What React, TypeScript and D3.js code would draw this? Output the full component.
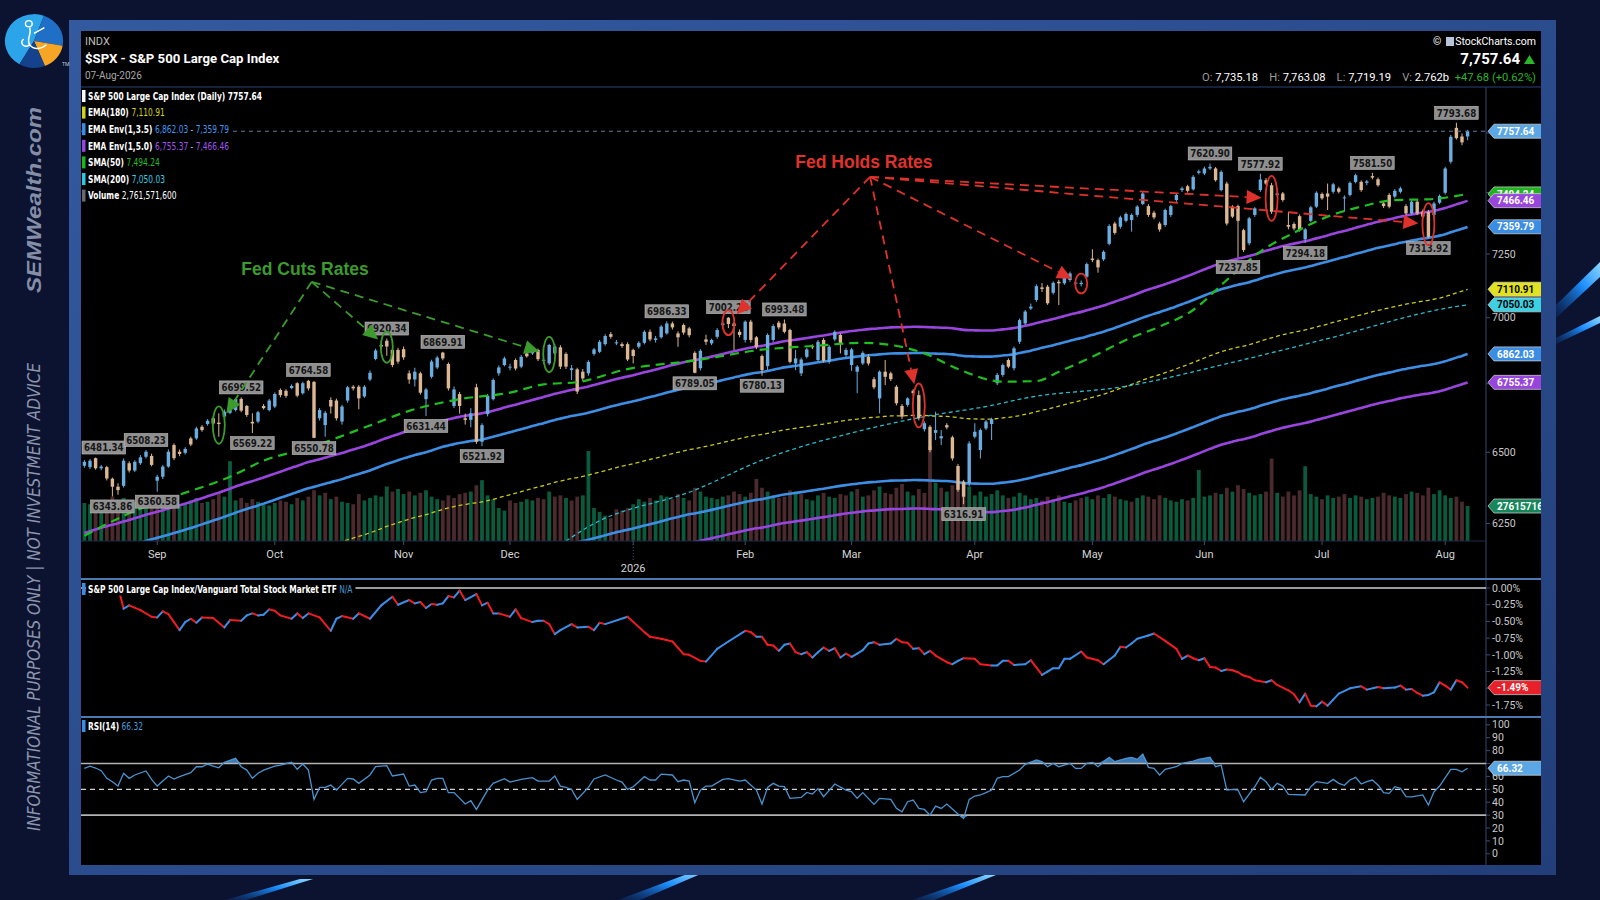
import { useEffect, useRef } from 'react'
import * as d3 from 'd3'

// $SPX daily bars 13-Aug-2025 .. 07-Aug-2026 : [open, high, low, close]
const candles: [number, number, number, number][] = [
  // 0-9
  [6452, 6472, 6445, 6466], [6447, 6476, 6440, 6470], [6479, 6481.34, 6438, 6443], [6443, 6455, 6436, 6449], [6447, 6452, 6400, 6407],
  [6406, 6410, 6343.86, 6378], [6378, 6390, 6350, 6366], [6381, 6478, 6375, 6470], [6461, 6468, 6428, 6435], [6435, 6472, 6430, 6466],
  // 10-19
  [6461, 6490, 6455, 6482], [6484, 6508.23, 6478, 6502], [6487, 6495, 6450, 6455], [6399, 6420, 6360.58, 6413], [6413, 6455, 6405, 6449],
  [6449, 6510, 6445, 6502], [6526, 6532, 6472, 6479], [6502, 6510, 6486, 6494], [6498, 6518, 6492, 6512], [6550, 6556, 6522, 6528],
  // 20-29
  [6550, 6592, 6545, 6586], [6592, 6598, 6574, 6580], [6602, 6620, 6596, 6614], [6623, 6630, 6598, 6604], [6607, 6641, 6556, 6602],
  [6629, 6655, 6622, 6647], [6643, 6672, 6638, 6666], [6653, 6697, 6648, 6694], [6694, 6699.52, 6645, 6651], [6668, 6672, 6628, 6635],
  // 30-39
  [6610, 6641, 6569.22, 6604], [6611, 6650, 6605, 6645], [6668, 6675, 6655, 6660], [6653, 6694, 6648, 6688], [6666, 6718, 6660, 6712],
  [6727, 6733, 6700, 6708], [6724, 6730, 6698, 6705], [6734, 6748, 6730, 6742], [6752, 6756, 6700, 6706], [6715, 6758, 6710, 6752],
  // 40-49
  [6761, 6764.58, 6725, 6733], [6757, 6760, 6550.78, 6552], [6623, 6660, 6615, 6653], [6598, 6650, 6556, 6643], [6690, 6700, 6640, 6666],
  [6688, 6695, 6615, 6623], [6611, 6672, 6600, 6666], [6688, 6742, 6680, 6737], [6739, 6745, 6725, 6733], [6739, 6745, 6656, 6696],
  // 50-59
  [6703, 6745, 6698, 6739], [6766, 6800, 6760, 6791], [6843, 6882, 6838, 6875], [6896, 6900, 6880, 6890], [6912, 6920.34, 6855, 6890],
  [6877, 6885, 6812, 6820], [6877, 6885, 6825, 6833], [6880, 6890, 6840, 6849], [6789, 6800, 6750, 6766], [6766, 6810, 6740, 6795],
  // 60-69
  [6789, 6795, 6710, 6717], [6693, 6735, 6631.44, 6729], [6776, 6840, 6770, 6833], [6811, 6855, 6805, 6848], [6867, 6869.91, 6838, 6845],
  [6824, 6830, 6725, 6733], [6668, 6740, 6660, 6729], [6712, 6720, 6640, 6668], [6623, 6640, 6600, 6617], [6617, 6660, 6590, 6641],
  // 70-79
  [6737, 6750, 6530, 6538], [6538, 6605, 6521.92, 6598], [6638, 6712, 6630, 6706], [6693, 6770, 6688, 6764], [6789, 6818, 6780, 6811],
  [6820, 6852, 6815, 6845], [6811, 6825, 6800, 6814], [6839, 6845, 6800, 6807], [6814, 6858, 6808, 6851], [6864, 6870, 6848, 6853],
  // 80-89
  [6864, 6880, 6858, 6870], [6877, 6882, 6835, 6842], [6836, 6860, 6825, 6840], [6826, 6900, 6820, 6896], [6864, 6900, 6858, 6890],
  [6887, 6895, 6805, 6814], [6862, 6868, 6805, 6814], [6801, 6820, 6764, 6808], [6804, 6810, 6712, 6721], [6795, 6805, 6760, 6770],
  // 90-99
  [6789, 6838, 6780, 6832], [6862, 6885, 6855, 6879], [6870, 6915, 6865, 6908], [6899, 6937, 6893, 6930], [6937, 6945, 6920, 6927],
  [6902, 6915, 6895, 6906], [6899, 6906, 6885, 6892], [6899, 6906, 6835, 6841], [6877, 6882, 6826, 6854], [6889, 6910, 6882, 6904],
  // 100-109
  [6904, 6952, 6898, 6946], [6946, 6955, 6910, 6917], [6915, 6930, 6905, 6921], [6925, 6972, 6920, 6966], [6940, 6986.33, 6935, 6978],
  [6978, 6985, 6955, 6963], [6940, 6948, 6889, 6925], [6972, 6978, 6935, 6943], [6959, 6965, 6925, 6933], [6866, 6872, 6789.05, 6791],
  // 110-119
  [6808, 6880, 6800, 6874], [6917, 6935, 6896, 6908], [6902, 6920, 6895, 6915], [6927, 6960, 6920, 6953], [6972, 6985, 6965, 6978],
  [7000, 7002.28, 6960, 6976], [6978, 6985, 6877, 6968], [6946, 6955, 6925, 6934], [6915, 6990, 6905, 6985], [6985, 6992, 6905, 6915],
  // 120-129
  [6925, 6930, 6880, 6889], [6854, 6860, 6780.13, 6801], [6816, 6940, 6800, 6934], [6915, 6975, 6908, 6968], [6981, 6988, 6955, 6963],
  [6978, 6993.48, 6940, 6946], [6953, 6958, 6826, 6832], [6826, 6877, 6801, 6845], [6789, 6848, 6779, 6841], [6851, 6885, 6845, 6879],
  // 130-139
  [6892, 6898, 6880, 6887], [6839, 6915, 6832, 6908], [6915, 6922, 6830, 6836], [6832, 6895, 6825, 6889], [6917, 6952, 6910, 6946],
  [6934, 6940, 6864, 6904], [6858, 6885, 6850, 6877], [6820, 6885, 6798, 6879], [6795, 6820, 6715, 6814], [6826, 6872, 6820, 6866],
  // 140-149
  [6851, 6860, 6818, 6826], [6767, 6775, 6730, 6737], [6696, 6800, 6641, 6795], [6795, 6839, 6745, 6776], [6789, 6795, 6760, 6767],
  [6739, 6745, 6670, 6678], [6668, 6675, 6620, 6629], [6672, 6700, 6665, 6696], [6724, 6730, 6705, 6715], [6708, 6725, 6615, 6623],
  // 150-159
  [6583, 6612, 6575, 6605], [6592, 6598, 6500, 6508], [6570, 6647, 6544, 6580], [6550, 6580, 6526, 6558], [6598, 6605, 6583, 6590],
  [6554, 6560, 6470, 6478], [6451, 6458, 6360, 6367], [6396, 6402, 6316.91, 6343], [6390, 6540, 6380, 6532], [6556, 6605, 6550, 6574],
  // 160-169
  [6508, 6586, 6478, 6580], [6586, 6617, 6580, 6611], [6602, 6625, 6544, 6620], [6752, 6790, 6745, 6783], [6783, 6826, 6776, 6820],
  [6839, 6845, 6808, 6814], [6808, 6890, 6800, 6883], [6908, 6997, 6900, 6991], [6978, 7030, 6972, 7024], [7036, 7055, 7030, 7043],
  // 170-179
  [7069, 7130, 7062, 7123], [7118, 7135, 7100, 7112], [7121, 7128, 7050, 7056], [7097, 7142, 7090, 7136], [7140, 7148, 7049, 7134],
  [7134, 7170, 7128, 7163], [7147, 7180, 7140, 7173], [7134, 7148, 7125, 7137], [7131, 7145, 7122, 7136], [7160, 7216, 7155, 7210],
  // 180-189
  [7232, 7269, 7218, 7226], [7226, 7232, 7176, 7197], [7229, 7265, 7222, 7259], [7291, 7370, 7285, 7363], [7373, 7380, 7328, 7335],
  [7360, 7405, 7352, 7398], [7384, 7418, 7378, 7412], [7387, 7414, 7340, 7408], [7408, 7448, 7400, 7442], [7453, 7502, 7448, 7496],
  // 190-199
  [7444, 7452, 7400, 7408], [7417, 7425, 7390, 7398], [7373, 7380, 7340, 7349], [7367, 7434, 7360, 7428], [7408, 7450, 7400, 7444],
  [7469, 7496, 7462, 7490], [7510, 7524, 7502, 7517], [7526, 7532, 7500, 7507], [7513, 7572, 7508, 7565], [7582, 7595, 7575, 7588],
  // 200-209
  [7579, 7608, 7572, 7600], [7600, 7620.9, 7594, 7607], [7600, 7606, 7545, 7551], [7510, 7592, 7505, 7586], [7537, 7545, 7365, 7373],
  [7442, 7448, 7395, 7401], [7444, 7450, 7237.85, 7384], [7346, 7352, 7258, 7266], [7293, 7400, 7285, 7394], [7408, 7440, 7400, 7435],
  // 210-219
  [7510, 7577.92, 7503, 7554], [7551, 7560, 7530, 7537], [7530, 7540, 7412, 7421], [7490, 7505, 7482, 7496], [7496, 7502, 7462, 7469],
  [7367, 7421, 7349, 7360], [7371, 7378, 7345, 7353], [7403, 7410, 7340, 7346], [7309, 7355, 7294.18, 7349], [7384, 7445, 7378, 7439],
  // 220-229
  [7442, 7505, 7436, 7499], [7494, 7500, 7470, 7476], [7496, 7537, 7428, 7483], [7503, 7540, 7496, 7534], [7517, 7524, 7496, 7503],
  [7476, 7488, 7421, 7480], [7490, 7546, 7484, 7540], [7544, 7578, 7538, 7572], [7544, 7550, 7503, 7510], [7540, 7552, 7530, 7546],
  // 230-239
  [7568, 7581.5, 7555, 7562], [7555, 7562, 7524, 7530], [7455, 7462, 7436, 7444], [7490, 7497, 7435, 7442], [7483, 7514, 7476, 7507],
  [7503, 7524, 7496, 7517], [7444, 7452, 7407, 7414], [7414, 7468, 7407, 7462], [7462, 7470, 7407, 7414], [7421, 7430, 7394, 7401],
  // 240-247
  [7421, 7428, 7313.92, 7319], [7408, 7462, 7400, 7455], [7458, 7492, 7452, 7486], [7499, 7607, 7492, 7600], [7628, 7742, 7620, 7734],
  [7772, 7793.68, 7722, 7728], [7735, 7748, 7698, 7709.96], [7735.18, 7763.08, 7719.19, 7757.64],
]

// daily volume, billions of shares
const volumes = [
  3.0, 2.9, 3.1, 2.8, 3.2, 3.5, 3.0, 3.4, 2.9, 3.1,
  2.8, 3.3, 3.0, 3.6, 2.9, 3.1, 3.3, 2.8, 2.9, 3.2,
  3.4, 3.0, 3.1, 3.3, 3.8, 3.5, 6.3, 3.2, 3.4, 3.0,
  3.3, 3.1, 2.9, 2.8, 3.0, 3.2, 3.1, 2.9, 3.4, 3.2,
  3.5, 4.0, 3.6, 3.8, 3.3, 3.5, 3.1, 3.0, 2.9, 3.7,
  3.2, 3.4, 3.6, 3.5, 4.3, 3.9, 4.1, 3.7, 3.9, 3.6,
  3.8, 4.0, 3.5, 3.3, 3.2, 3.6, 3.4, 3.7, 3.8, 3.9,
  4.4, 4.8, 3.6, 3.3, 2.6, 2.4, 3.2, 3.0, 3.1, 3.3,
  3.2, 3.4, 3.3, 3.9, 3.5, 3.6, 3.4, 3.2, 3.5, 3.6,
  7.1, 2.6, 2.3, 2.0, 1.8, 2.5, 2.4, 2.6, 2.9, 3.3,
  3.1, 3.4, 3.2, 3.6, 3.5, 3.3, 3.7, 3.4, 3.2, 4.2,
  3.9, 3.5, 3.4, 3.3, 3.5, 3.6, 3.9, 3.7, 3.5, 3.8,
  4.9, 4.2, 3.9, 3.6, 3.4, 3.5, 4.0, 3.9, 3.7, 3.3,
  3.2, 3.6, 3.8, 3.5, 3.4, 3.7, 3.6, 3.9, 4.1, 3.5,
  3.6, 4.0, 4.3, 3.8, 3.7, 4.2, 4.5, 3.9, 3.6, 4.1,
  3.8, 7.5, 4.6, 4.2, 3.9, 4.4, 4.7, 4.5, 4.3, 3.6,
  3.9, 3.5, 3.7, 4.0, 3.6, 3.4, 3.5, 3.8, 3.6, 3.3,
  3.4, 3.2, 3.5, 3.3, 3.6, 3.1, 3.0, 3.2, 3.4, 3.5,
  3.3, 3.6, 3.4, 3.7, 3.5, 3.3, 3.2, 3.1, 3.4, 3.6,
  3.5, 3.3, 3.6, 3.4, 3.2, 3.1, 3.3, 3.2, 3.4, 5.6,
  3.5, 3.6, 3.8, 3.7, 4.2, 3.9, 4.4, 4.1, 3.8, 3.6,
  3.7, 3.9, 6.5, 3.8, 3.5, 3.9, 3.6, 4.0, 5.9, 3.7,
  3.5, 3.3, 3.6, 3.4, 3.5, 3.7, 3.4, 3.6, 3.5, 3.3,
  3.4, 3.5, 3.8, 3.6, 3.5, 3.4, 3.7, 3.9, 3.8, 3.6,
  4.2, 3.7, 4.0, 3.6, 3.4, 3.5, 3.1, 2.7615716,
]

// EMA(180) at the first bar; the rest follows from the closes
const ema180Start = 5921

// SMA(50) and SMA(200): [bar, value]
const sma50Points: [number, number][] = [
  [0, 6208], [8, 6285], [16, 6343], [26, 6413], [32, 6470], [40, 6516], [51, 6597], [58, 6650],
  [67, 6693], [76, 6717], [82, 6748], [88, 6756], [97, 6805], [109, 6837], [121, 6878], [130, 6892],
  [139, 6904], [144, 6896], [150, 6864], [156, 6805], [164, 6758], [170, 6760], [174, 6795],
  [180, 6851], [186, 6915], [192, 6966], [198, 7030], [204, 7147], [210, 7260], [216, 7336],
  [222, 7401], [228, 7442], [234, 7469], [240, 7472], [247, 7494.24],
]
const sma200Points: [number, number][] = [
  [86, 6190], [90, 6239], [109, 6366], [121, 6472], [139, 6580], [150, 6629], [162, 6670],
  [168, 6697], [186, 6741], [204, 6825], [222, 6920], [244, 7040], [247, 7050.03],
]

// S&P 500 / VTI relative performance, %
const relPerf: [number, number][] = [
  [0, -0.02], [1, -0.1], [2, -0.02], [3, 0.01], [4, 0.03], [5, 0.02], [6, 0.02], [7, -0.31], [8, -0.26], [10, -0.33],
  [12, -0.43], [13, -0.44], [14, -0.35], [15, -0.39], [17, -0.63], [18, -0.51], [19, -0.46], [20, -0.52], [21, -0.44],
  [23, -0.45], [25, -0.59], [26, -0.48], [28, -0.49], [29, -0.41], [30, -0.38], [31, -0.41], [32, -0.4], [33, -0.32],
  [34, -0.34], [35, -0.41], [37, -0.46], [38, -0.38], [39, -0.45], [40, -0.38], [42, -0.44], [44, -0.64], [45, -0.46],
  [46, -0.42], [48, -0.46], [49, -0.38], [51, -0.46], [53, -0.26], [55, -0.13], [56, -0.25], [58, -0.18], [59, -0.23],
  [60, -0.21], [61, -0.3], [62, -0.24], [63, -0.25], [64, -0.23], [65, -0.12], [66, -0.14], [67, -0.04], [68, -0.18],
  [70, -0.09], [71, -0.26], [72, -0.22], [73, -0.38], [74, -0.38], [76, -0.43], [77, -0.32], [78, -0.45], [80, -0.51],
  [81, -0.49], [82, -0.49], [83, -0.54], [84, -0.69], [85, -0.63], [87, -0.54], [88, -0.59], [90, -0.58], [91, -0.63],
  [92, -0.52], [93, -0.54], [97, -0.43], [100, -0.66], [101, -0.73], [103, -0.76], [105, -0.8], [107, -0.99], [108, -1.0],
  [110, -1.09], [111, -1.1], [113, -0.91], [115, -0.8], [118, -0.64], [119, -0.66], [120, -0.73], [121, -0.73], [122, -0.85],
  [123, -0.86], [124, -0.94], [125, -0.85], [126, -0.83], [127, -0.96], [128, -0.99], [129, -0.96], [130, -1.04], [131, -0.96],
  [132, -0.89], [133, -0.94], [134, -0.9], [135, -1.04], [136, -0.98], [137, -1.03], [138, -0.98], [139, -0.93], [140, -0.83],
  [141, -0.81], [142, -0.85], [144, -0.83], [145, -0.76], [146, -0.81], [147, -0.82], [148, -0.91], [149, -0.9], [150, -0.99],
  [151, -0.94], [152, -1.01], [154, -1.11], [155, -1.14], [156, -1.09], [157, -1.05], [159, -1.06], [160, -1.14], [162, -1.16],
  [163, -1.16], [164, -1.09], [165, -1.09], [166, -1.15], [168, -1.14], [169, -1.08], [171, -1.3], [172, -1.25], [173, -1.2],
  [174, -1.2], [175, -1.06], [176, -1.06], [178, -0.95], [179, -1.04], [181, -1.08], [182, -1.14], [184, -1.01], [185, -0.88],
  [186, -0.89], [187, -0.83], [188, -0.76], [190, -0.71], [191, -0.68], [193, -0.79], [195, -0.91], [196, -1.06], [197, -1.01],
  [198, -1.05], [199, -1.08], [200, -1.05], [201, -1.18], [202, -1.19], [203, -1.24], [204, -1.22], [205, -1.23], [206, -1.26],
  [207, -1.31], [208, -1.33], [209, -1.38], [211, -1.41], [212, -1.38], [213, -1.45], [215, -1.53], [216, -1.59], [217, -1.71],
  [218, -1.58], [219, -1.76], [220, -1.77], [221, -1.7], [222, -1.76], [223, -1.67], [224, -1.58], [226, -1.5], [228, -1.47],
  [229, -1.52], [231, -1.48], [232, -1.5], [234, -1.49], [235, -1.46], [236, -1.52], [237, -1.51], [238, -1.57], [239, -1.61],
  [240, -1.6], [241, -1.56], [242, -1.41], [243, -1.46], [244, -1.52], [245, -1.38], [246, -1.41], [247, -1.49],
]

// RSI(14): [bar, value]
const rsiPoints: [number, number][] = [
  [0, 66.2], [1, 68.0], [2, 66.5], [3, 64.4], [4, 58.5], [5, 55.9], [6, 52.5], [7, 62.4], [8, 58.5], [9, 61.1], [11, 64.2],
  [12, 57.7], [13, 52.5], [15, 60.3], [16, 58.0], [17, 59.8], [19, 62.9], [20, 67.5], [21, 67.5], [22, 69.6], [23, 68.0],
  [24, 66.7], [25, 70.9], [27, 74.0], [28, 67.5], [29, 64.9], [30, 58.5], [31, 62.4], [32, 64.9], [34, 68.0], [35, 68.8],
  [37, 70.9], [38, 65.5], [39, 69.6], [40, 64.9], [41, 42.2], [42, 51.5], [43, 51.5], [44, 53.3], [45, 49.4], [47, 58.5],
  [48, 58.0], [49, 54.6], [51, 61.1], [52, 67.5], [54, 68.3], [55, 60.3], [57, 61.8], [58, 52.5], [59, 53.3], [60, 47.4],
  [61, 48.1], [62, 57.2], [63, 58.5], [64, 58.5], [65, 47.4], [66, 47.4], [68, 38.6], [69, 41.2], [70, 34.4], [72, 49.4],
  [73, 54.6], [75, 58.2], [76, 55.6], [78, 57.7], [80, 59.0], [81, 56.4], [83, 56.4], [84, 60.3], [85, 52.5], [86, 51.5],
  [87, 49.9], [88, 42.2], [90, 51.5], [91, 58.0], [93, 61.1], [95, 57.2], [96, 55.6], [97, 49.9], [98, 52.0], [100, 59.8],
  [101, 57.2], [102, 57.2], [103, 61.8], [105, 61.1], [106, 55.9], [107, 57.2], [108, 56.4], [109, 39.6], [110, 49.4],
  [111, 52.5], [112, 52.5], [114, 57.7], [115, 58.2], [117, 56.4], [118, 57.2], [120, 49.4], [121, 38.6], [122, 51.5],
  [123, 54.6], [124, 52.5], [125, 52.0], [126, 43.0], [128, 43.7], [129, 47.6], [130, 46.3], [131, 50.5], [132, 44.3],
  [134, 54.1], [136, 49.4], [137, 48.1], [138, 43.0], [139, 47.4], [141, 38.3], [142, 43.0], [144, 42.2], [145, 35.2],
  [146, 32.6], [147, 40.4], [148, 41.7], [149, 35.2], [150, 34.4], [151, 30.0], [152, 37.0], [153, 35.2], [154, 38.6],
  [156, 30.8], [157, 27.5], [158, 42.2], [159, 44.8], [160, 45.6], [161, 47.4], [162, 49.4], [163, 58.5], [164, 59.8],
  [165, 59.8], [167, 64.9], [168, 69.3], [170, 72.7], [171, 71.4], [172, 67.5], [173, 70.1], [174, 67.5], [176, 70.1],
  [177, 66.2], [178, 66.2], [179, 70.1], [180, 70.9], [181, 67.5], [183, 74.8], [184, 71.4], [186, 74.0], [187, 74.8],
  [188, 73.2], [189, 77.3], [190, 67.0], [191, 66.2], [192, 61.1], [193, 65.5], [195, 67.5], [196, 70.1], [198, 71.9],
  [199, 73.2], [201, 74.8], [202, 67.5], [203, 68.8], [204, 49.4], [205, 49.9], [206, 49.4], [207, 40.4], [209, 52.0],
  [210, 59.3], [211, 55.9], [212, 49.9], [213, 54.6], [214, 52.5], [215, 46.1], [218, 45.6], [219, 52.0], [220, 55.9],
  [222, 54.6], [223, 57.7], [224, 54.6], [225, 53.1], [226, 57.2], [227, 59.3], [228, 54.1], [229, 55.9], [230, 57.2],
  [231, 53.3], [232, 47.4], [233, 46.9], [234, 52.0], [235, 50.7], [236, 44.3], [237, 44.2], [239, 45.6], [240, 37.8],
  [241, 48.1], [242, 52.5], [244, 65.5], [245, 65.4], [246, 63.6], [247, 66.32],
]

// first trading day of each month (bar index)
const monthTicks: [string, number][] = [
  ['Sep', 13], ['Oct', 34], ['Nov', 57], ['Dec', 76], ['2026', 98], ['Feb', 118],
  ['Mar', 137], ['Apr', 159], ['May', 180], ['Jun', 200], ['Jul', 221], ['Aug', 243],
]

// FOMC days
const fedCuts = [24, 54, 83]
const fedHolds = [115, 149, 178, 212, 240]

// bars whose high / low carries a price label
const highLabels = [2, 11, 28, 40, 54, 64, 104, 115, 125, 201, 210, 230, 245]
const lowLabels = [5, 13, 30, 41, 61, 71, 109, 121, 157, 206, 218, 240]

const priceTicks = [6250, 6500, 6750, 7000, 7250, 7500, 7750]
const relTicks = [0, -0.25, -0.5, -0.75, -1, -1.25, -1.5, -1.75]
const rsiTicks = [0, 10, 20, 30, 40, 50, 60, 70, 80, 90, 100]

// last values shown in legend / axis tags
const lastEma = 7110.91
const envLast = { lo35: 6862.03, hi35: 7359.79, lo5: 6755.37, hi5: 7466.46 }
const lastSma50 = 7494.24
const lastSma200 = 7050.03
const lastVolume = 2761571600
const lastRel = -1.49
const lastRsi = 66.32

const FONT = 'Roboto, "Liberation Sans", Arial, sans-serif'
const NARROW = '"Liberation Sans Narrow", "DejaVu Sans Condensed", Roboto, sans-serif'

const W = 1600
const H = 900
const chartL = 81, chartR = 1541, chartT = 31, chartB = 865
const plotR = 1486
const priceT = 87, priceB = 541
const relT = 579, relB = 716
const rsiT = 717

export default function App() {
  const svgRef = useRef<SVGSVGElement>(null)

  useEffect(() => {
    if (!svgRef.current) return
    const svg = d3.select(svgRef.current)
    svg.selectAll('*').remove()
    const defs = svg.append('defs')

    const n = candles.length
    const x = d3.scaleLinear().domain([0, n - 1]).range([84.4, 84.4 + 5.6 * (n - 1)])
    const y = d3.scaleLog().domain([6250, 7757.64]).range([523.5, 131.2])
    const yVol = d3.scaleLinear().domain([0, 2.7615716]).range([priceB, 506])
    const yRel = d3.scaleLinear().domain([-1.75, 0]).range([705, 588])
    const yRsi = d3.scaleLinear().domain([0, 100]).range([853.8, 724.8])

    // ---- page background / frame
    const frameGrad = defs.append('linearGradient').attr('id', 'frameGrad')
      .attr('x1', 0).attr('y1', 0).attr('x2', 1).attr('y2', 1)
    frameGrad.append('stop').attr('offset', 0).attr('stop-color', '#33599f')
    frameGrad.append('stop').attr('offset', 1).attr('stop-color', '#223f7a')
    const streak = defs.append('linearGradient').attr('id', 'streak')
      .attr('x1', 0).attr('y1', 1).attr('x2', 1).attr('y2', 0)
    streak.append('stop').attr('offset', 0).attr('stop-color', '#0a4aa0').attr('stop-opacity', 0.2)
    streak.append('stop').attr('offset', 0.6).attr('stop-color', '#1e90ff')
    streak.append('stop').attr('offset', 1).attr('stop-color', '#8fd8ff')

    svg.append('rect').attr('width', W).attr('height', H).attr('fill', '#0b1331')
    const streaks = [
      [[225, 900], [300, 879], [313, 879], [246, 900]],
      [[618, 900], [690, 873], [703, 873], [640, 900]],
      [[912, 900], [985, 875], [996, 875], [934, 900]],
      [[1556, 305], [1600, 262], [1600, 277], [1556, 318]],
      [[1556, 338], [1600, 316], [1600, 323], [1556, 344]],
    ]
    streaks.forEach(p => {
      svg.append('polygon').attr('points', p.map(d => d.join(',')).join(' ')).attr('fill', 'url(#streak)')
    })
    svg.append('rect').attr('x', 69).attr('y', 20).attr('width', 1487).attr('height', 855)
      .attr('fill', 'url(#frameGrad)')
    svg.append('rect').attr('x', chartL).attr('y', chartT)
      .attr('width', chartR - chartL).attr('height', chartB - chartT).attr('fill', '#000')

    // ---- logo + side texts
    const logo = svg.append('g').attr('transform', 'translate(34,41) scale(1.04,0.96)')
    const arc = d3.arc<any>().innerRadius(0).outerRadius(28)
    const wedges: [number, number, string][] = [
      [-150, 20, '#2ba4ea'], [20, 100, '#1f6fc6'], [100, 158, '#f6a524'], [158, 210, '#15428c'],
    ]
    wedges.forEach(([a0, a1, c]) => {
      logo.append('path')
        .attr('d', arc({ startAngle: (a0 * Math.PI) / 180, endAngle: (a1 * Math.PI) / 180 }) as string)
        .attr('fill', c)
    })
    logo.append('circle').attr('cx', -5).attr('cy', -18).attr('r', 3.2)
      .attr('fill', 'none').attr('stroke', '#fff').attr('stroke-width', 1.4)
    logo.append('path').attr('d', 'M-4,-14 C-2,-6 -8,-2 -4,4 C0,10 8,8 12,4 M-4,4 C-10,8 -14,2 -10,-2 M0,-8 L10,-14')
      .attr('fill', 'none').attr('stroke', '#fff').attr('stroke-width', 1.5)
    svg.append('text').attr('x', 62).attr('y', 66).text('TM')
      .attr('font-family', FONT).attr('font-size', 5).attr('fill', '#ccc')

    svg.append('text').attr('transform', 'translate(41,200) rotate(-90)')
      .attr('text-anchor', 'middle').text('SEMWealth.com')
      .attr('font-family', '"Liberation Sans", Arial, sans-serif').attr('font-weight', 'bold')
      .attr('font-style', 'italic').attr('font-size', 21).attr('fill', '#858ea7')
      .attr('textLength', 186).attr('lengthAdjust', 'spacingAndGlyphs')
    svg.append('text').attr('transform', 'translate(40,597) rotate(-90)')
      .attr('text-anchor', 'middle').text('INFORMATIONAL PURPOSES ONLY | NOT INVESTMENT ADVICE')
      .attr('font-family', NARROW).attr('font-style', 'italic')
      .attr('font-size', 17).attr('fill', '#8d95ad')
      .attr('textLength', 468).attr('lengthAdjust', 'spacingAndGlyphs')

    // ---- clip paths
    const clip = (id: string, x0: number, y0: number, x1: number, y1: number) => {
      defs.append('clipPath').attr('id', id).append('rect')
        .attr('x', x0).attr('y', y0).attr('width', x1 - x0).attr('height', y1 - y0)
    }
    clip('cPrice', chartL, priceT, plotR, priceB)
    clip('cRel', chartL, relT, plotR, relB)
    clip('cRsi', chartL, rsiT, plotR, chartB)
    clip('cAll', chartL, chartT, chartR, chartB)

    // ---- header
    const hdr = svg.append('g').attr('font-family', FONT)
    hdr.append('text').attr('x', 85).attr('y', 45).text('INDX').attr('font-size', 11).attr('fill', '#bdbdbd')
    hdr.append('text').attr('x', 85).attr('y', 63).text('$SPX - S&P 500 Large Cap Index')
      .attr('font-size', 13.2).attr('font-weight', 'bold').attr('fill', '#fff')
    hdr.append('text').attr('x', 85).attr('y', 79).text('07-Aug-2026').attr('font-size', 10).attr('fill', '#a9a9a9')
    hdr.append('text').attr('x', 1536).attr('y', 45).attr('text-anchor', 'end')
      .text('StockCharts.com').attr('font-size', 10.5).attr('fill', '#fff')
    hdr.append('rect').attr('x', 1446).attr('y', 37).attr('width', 8).attr('height', 9).attr('fill', '#b9c4d6')
    hdr.append('text').attr('x', 1433).attr('y', 45).text('©').attr('font-size', 10.5).attr('fill', '#fff')
    hdr.append('text').attr('x', 1520).attr('y', 64).attr('text-anchor', 'end')
      .text('7,757.64').attr('font-size', 15).attr('font-weight', 'bold').attr('fill', '#fff')
    hdr.append('path').attr('d', 'M1524,64 L1529.5,55 L1535,64 Z').attr('fill', '#2bb52b')
    const ohlc = hdr.append('text').attr('x', 1536).attr('y', 81).attr('text-anchor', 'end')
      .attr('font-size', 11.2).attr('xml:space', 'preserve')
    const ohlcParts: [string, string][] = [
      ['O: ', '#9a9a9a'], ['7,735.18', '#fff'], ['    H: ', '#9a9a9a'], ['7,763.08', '#fff'],
      ['    L: ', '#9a9a9a'], ['7,719.19', '#fff'], ['    V: ', '#9a9a9a'], ['2.762b', '#fff'],
      ['  +47.68 (+0.62%)', '#2bb52b'],
    ]
    ohlcParts.forEach(([s, c]) => ohlc.append('tspan').text(s).attr('fill', c))
    svg.append('line').attr('x1', chartL).attr('x2', chartR).attr('y1', priceT).attr('y2', priceT)
      .attr('stroke', '#1c2c50').attr('stroke-width', 1.5)

    // ---- price panel
    const pg = svg.append('g').attr('clip-path', 'url(#cPrice)')
    const closes = candles.map(d => d[3])

    // volume
    pg.selectAll('.vol').data(volumes).enter().append('rect')
      .attr('x', (_, i) => x(i) - 1.9).attr('width', 3.8)
      .attr('y', v => yVol(v)).attr('height', v => priceB - yVol(v))
      .attr('fill', (_, i) => (i === 0 || closes[i] >= closes[i - 1] ? '#0b5a3d' : '#4a2a2d'))

    // EMA(180) and its envelopes
    const ema: number[] = []
    closes.forEach((c, i) => ema.push(i === 0 ? ema180Start : ema[i - 1] + ((c - ema[i - 1]) * 2) / 181))
    const idxLine = d3.line<number>().x((_, i) => x(i)).y(v => y(v)).curve(d3.curveMonotoneX)
    const ptLine = d3.line<[number, number]>().x(d => x(d[0])).y(d => y(d[1])).curve(d3.curveMonotoneX)

    const env: [number, string][] = [[1.05, '#9a45e0'], [0.95, '#9a45e0'], [1.035, '#3d8fe6'], [0.965, '#3d8fe6']]
    env.forEach(([k, c]) => {
      pg.append('path').attr('d', idxLine(ema.map(v => v * k))).attr('fill', 'none')
        .attr('stroke', c).attr('stroke-width', 2.6)
    })
    pg.append('path').attr('d', idxLine(ema)).attr('fill', 'none')
      .attr('stroke', '#c9c81c').attr('stroke-width', 1.3).attr('stroke-dasharray', '4 3')
    pg.append('path').attr('d', ptLine(sma200Points)).attr('fill', 'none')
      .attr('stroke', '#2cb9c9').attr('stroke-width', 1.3).attr('stroke-dasharray', '4 3')

    // candles
    const up = '#6aade0'
    const down = '#dcb793'
    const cg = pg.append('g')
    candles.forEach(([o, h, l, c], i) => {
      const col = c >= o ? up : down
      cg.append('line').attr('x1', x(i)).attr('x2', x(i)).attr('y1', y(h)).attr('y2', y(l))
        .attr('stroke', col).attr('stroke-width', 1)
      const top = y(Math.max(o, c))
      cg.append('rect').attr('x', x(i) - 1.7).attr('width', 3.4).attr('y', top)
        .attr('height', Math.max(1, y(Math.min(o, c)) - top)).attr('fill', col)
    })

    pg.append('path').attr('d', ptLine(sma50Points)).attr('fill', 'none')
      .attr('stroke', '#1fbf1f').attr('stroke-width', 2.2).attr('stroke-dasharray', '9 6')

    // last price line
    pg.append('line').attr('x1', chartL).attr('x2', plotR)
      .attr('y1', y(closes[n - 1])).attr('y2', y(closes[n - 1]))
      .attr('stroke', '#5d7c9c').attr('stroke-width', 1).attr('stroke-dasharray', '4 4')

    // high / low labels, kept inside the panel; condensed with a horizontal scale
    const priceLabel = (i: number, isHigh: boolean) => {
      const v = isHigh ? candles[i][1] : candles[i][2]
      const yy = isHigh ? y(v) - 10 : y(v) + 10
      const g = pg.append('g')
      const t = g.append('text').attr('x', 0).attr('y', 0).attr('dy', '0.36em')
        .attr('text-anchor', 'middle').text(v.toFixed(2))
        .attr('font-family', NARROW).attr('font-weight', 'bold').attr('font-size', 10.5).attr('fill', '#161616')
      const w = (t.node() as SVGTextElement).getComputedTextLength() * 0.92 + 4
      const cx = Math.min(Math.max(x(i), chartL + 1 + w / 2), plotR - 1 - w / 2)
      t.attr('transform', `translate(${cx},${yy}) scale(0.92,1)`)
      g.insert('rect', 'text').attr('x', cx - w / 2).attr('y', yy - 6.5).attr('width', w).attr('height', 13)
        .attr('fill', '#8f8f8f').attr('stroke', '#bdbdbd').attr('stroke-width', 0.6)
    }
    highLabels.forEach(i => priceLabel(i, true))
    lowLabels.forEach(i => priceLabel(i, false))

    // Fed annotations
    const callout = (label: string, color: string, textAt: [number, number], apex: [number, number], targets: number[]) => {
      const g = svg.append('g').attr('clip-path', 'url(#cPrice)')
      const ax = x(apex[0]), ay = y(apex[1])
      targets.forEach(i => {
        const [, h, l] = candles[i]
        const cx = x(i), cy = (y(h) + y(l)) / 2
        const rx = 6, ry = (y(l) - y(h)) / 2 + 7
        g.append('ellipse').attr('cx', cx).attr('cy', cy).attr('rx', rx).attr('ry', ry)
          .attr('fill', 'none').attr('stroke', color).attr('stroke-width', 1.8)
        let dx = ax - cx, dy = ay - cy
        const len = Math.hypot(dx, dy)
        dx /= len; dy /= len
        const t = 1 / Math.sqrt((dx / rx) ** 2 + (dy / ry) ** 2)
        const tx = cx + dx * (t + 4), ty = cy + dy * (t + 4)
        const bx = tx + dx * 15, by = ty + dy * 15
        g.append('line').attr('x1', ax).attr('y1', ay).attr('x2', bx).attr('y2', by)
          .attr('stroke', color).attr('stroke-width', 1.8).attr('stroke-dasharray', '9 6')
        g.append('path')
          .attr('d', `M${tx},${ty} L${bx - dy * 7},${by + dx * 7} L${bx + dy * 7},${by - dx * 7} Z`)
          .attr('fill', color)
      })
      g.append('text').attr('x', x(textAt[0])).attr('y', y(textAt[1])).attr('text-anchor', 'middle')
        .text(label).attr('font-family', '"Liberation Sans", Arial, sans-serif').attr('font-weight', 'bold')
        .attr('font-size', 17.5).attr('fill', color)
    }
    callout('Fed Cuts Rates', '#3b9b2d', [39.4, 7165], [40.6, 7140], fedCuts)
    callout('Fed Holds Rates', '#e0322c', [139.2, 7601], [140.3, 7565], fedHolds)

    // ---- legends (black backing, condensed with a horizontal scale)
    const legendRow = (yc: number, mark: string, parts: [string, string, boolean][]) => {
      const g = svg.append('g')
      g.append('rect').attr('x', 82).attr('y', yc - 6).attr('width', 3.5).attr('height', 12).attr('fill', mark)
      const t = g.append('text').attr('x', 0).attr('y', 0)
        .attr('transform', `translate(88,${yc + 3.7}) scale(0.8,1)`)
        .attr('font-family', NARROW).attr('font-size', 10.4).attr('xml:space', 'preserve')
      parts.forEach(([s, c, b]) => t.append('tspan').text(s).attr('fill', c).attr('font-weight', b ? 'bold' : 'normal'))
      const w = (t.node() as SVGTextElement).getComputedTextLength() * 0.8
      g.insert('rect', 'text').attr('x', 86).attr('y', yc - 6.5).attr('width', w + 5).attr('height', 13).attr('fill', '#000')
    }
    const fmt = d3.format(',.2f')
    const priceLegend: [string, [string, string, boolean][]][] = [
      ['#ffffff', [[`S&P 500 Large Cap Index (Daily) ${closes[n - 1]}`, '#fff', true]]],
      ['#d2d21a', [['EMA(180) ', '#fff', true], [fmt(lastEma), '#d4d41c', false]]],
      ['#3b8de4', [['EMA Env(1,3.5) ', '#fff', true], [fmt(envLast.lo35), '#4197f0', false], [' - ', '#ccc', false], [fmt(envLast.hi35), '#4197f0', false]]],
      ['#9845dc', [['EMA Env(1,5.0) ', '#fff', true], [fmt(envLast.lo5), '#a155ee', false], [' - ', '#ccc', false], [fmt(envLast.hi5), '#a155ee', false]]],
      ['#1eb41e', [['SMA(50) ', '#fff', true], [fmt(lastSma50), '#22bb22', false]]],
      ['#2ec8d8', [['SMA(200) ', '#fff', true], [fmt(lastSma200), '#36cde0', false]]],
      ['#6a6a6a', [['Volume ', '#fff', true], [d3.format(',')(lastVolume), '#fff', false]]],
    ]
    priceLegend.forEach(([m, parts], k) => legendRow(96 + k * 16.6, m, parts))

    // ---- axes frame
    svg.append('line').attr('x1', plotR).attr('x2', plotR).attr('y1', priceT).attr('y2', chartB)
      .attr('stroke', '#2a3d60').attr('stroke-width', 1.2)
    svg.append('line').attr('x1', chartL).attr('x2', plotR).attr('y1', priceB).attr('y2', priceB)
      .attr('stroke', '#1c2a46').attr('stroke-width', 1)

    // tag positions: tick labels hidden under a tag are not written
    const tagYs = [
      y(closes[n - 1]), y(lastSma50), y(envLast.hi5), y(envLast.hi35), y(lastEma), y(lastSma200),
      y(envLast.lo35), y(envLast.lo5), yVol(volumes[n - 1]), yRel(lastRel), yRsi(lastRsi),
    ]
    const tickText = (yy: number, s: string) => {
      svg.append('line').attr('x1', plotR).attr('x2', plotR + 4).attr('y1', yy).attr('y2', yy).attr('stroke', '#3a4d70')
      if (tagYs.some(ty => Math.abs(ty - yy) < 8)) return
      svg.append('text').attr('x', plotR + 6).attr('y', yy).attr('dy', '0.35em').text(s)
        .attr('font-family', FONT).attr('font-size', 10.5).attr('fill', '#c9c9c9')
    }
    priceTicks.forEach(v => tickText(y(v), String(v)))
    relTicks.forEach(v => tickText(yRel(v), `${v.toFixed(2)}%`))
    rsiTicks.forEach(v => tickText(yRsi(v), String(v)))

    // date axis
    monthTicks.forEach(([m, i]) => {
      const xx = x(i)
      svg.append('line').attr('x1', xx).attr('x2', xx).attr('y1', priceB).attr('y2', priceB + 4).attr('stroke', '#3a4d70')
      if (m === '2026') {
        svg.append('line').attr('x1', xx).attr('x2', xx).attr('y1', priceB).attr('y2', priceB + 20)
          .attr('stroke', '#3a4d70').attr('stroke-dasharray', '1 2')
        svg.append('text').attr('x', xx).attr('y', 572).attr('text-anchor', 'middle').text(m)
          .attr('font-family', FONT).attr('font-size', 11).attr('fill', '#d4d4d4')
      } else {
        svg.append('text').attr('x', xx).attr('y', 558).attr('text-anchor', 'middle').text(m)
          .attr('font-family', FONT).attr('font-size', 11).attr('fill', '#d4d4d4')
      }
    })

    // panel separators
    ;[relT, rsiT].forEach(yy => {
      svg.append('line').attr('x1', chartL).attr('x2', chartR).attr('y1', yy).attr('y2', yy)
        .attr('stroke', '#4c7bb2').attr('stroke-width', 2)
    })

    // ---- relative performance panel
    const rg = svg.append('g').attr('clip-path', 'url(#cRel)')
    rg.append('line').attr('x1', chartL).attr('x2', plotR).attr('y1', yRel(0)).attr('y2', yRel(0))
      .attr('stroke', '#cfcfcf').attr('stroke-width', 1.5)
    relPerf.forEach((d, k) => {
      if (k === 0) return
      const p = relPerf[k - 1]
      rg.append('line').attr('x1', x(p[0])).attr('y1', yRel(p[1])).attr('x2', x(d[0])).attr('y2', yRel(d[1]))
        .attr('stroke', d[1] < p[1] ? '#f01c22' : '#3a8fe8').attr('stroke-width', 2).attr('stroke-linecap', 'round')
    })
    legendRow(589, '#3b8de4', [['S&P 500 Large Cap Index/Vanguard Total Stock Market ETF', '#fff', true], [' N/A', '#4a9ad8', false]])

    // ---- RSI panel
    const sg = svg.append('g').attr('clip-path', 'url(#cRsi)')
    sg.append('path')
      .attr('d', d3.area<[number, number]>().x(d => x(d[0])).y0(yRsi(70)).y1(d => yRsi(Math.max(70, d[1])))(rsiPoints))
      .attr('fill', '#3b78b4')
    sg.append('path')
      .attr('d', d3.area<[number, number]>().x(d => x(d[0])).y0(yRsi(30)).y1(d => yRsi(Math.min(30, d[1])))(rsiPoints))
      .attr('fill', '#3b78b4')
    ;[70, 30].forEach(v => {
      sg.append('line').attr('x1', chartL).attr('x2', plotR).attr('y1', yRsi(v)).attr('y2', yRsi(v))
        .attr('stroke', '#b3b3b3').attr('stroke-width', 1.6)
    })
    sg.append('line').attr('x1', chartL).attr('x2', plotR).attr('y1', yRsi(50)).attr('y2', yRsi(50))
      .attr('stroke', '#d0d0d0').attr('stroke-width', 1.2).attr('stroke-dasharray', '5 4')
    sg.append('path').attr('d', d3.line<[number, number]>().x(d => x(d[0])).y(d => yRsi(d[1]))(rsiPoints))
      .attr('fill', 'none').attr('stroke', '#4a93cf').attr('stroke-width', 1.3)
    legendRow(726, '#3b8de4', [['RSI(14)', '#fff', true], [` ${lastRsi}`, '#4a9ad8', false]])

    // ---- value tags on the right axis
    const tg = svg.append('g').attr('clip-path', 'url(#cAll)')
    const tag = (yy: number, s: string, fill: string, ink: string) => {
      const x0 = plotR + 2
      tg.append('path')
        .attr('d', `M${x0},${yy} L${x0 + 6},${yy - 7} L${chartR + 6},${yy - 7} L${chartR + 6},${yy + 7} L${x0 + 6},${yy + 7} Z`)
        .attr('fill', fill).attr('stroke', '#d9d9d9').attr('stroke-width', 0.7)
      tg.append('text').attr('x', x0 + 9).attr('y', yy).attr('dy', '0.36em').text(s)
        .attr('font-family', FONT).attr('font-size', 10).attr('font-weight', 'bold').attr('fill', ink)
    }
    tag(y(closes[n - 1]), closes[n - 1].toFixed(2), '#5ba7e6', '#fff')
    tag(y(lastSma50), lastSma50.toFixed(2), '#1eb41e', '#fff')
    tag(y(envLast.hi5), envLast.hi5.toFixed(2), '#9845dc', '#fff')
    tag(y(envLast.hi35), envLast.hi35.toFixed(2), '#3b8de4', '#fff')
    tag(y(lastEma), lastEma.toFixed(2), '#e2e21e', '#000')
    tag(y(lastSma200), lastSma200.toFixed(2), '#3dd0e2', '#000')
    tag(y(envLast.lo35), envLast.lo35.toFixed(2), '#3b8de4', '#fff')
    tag(y(envLast.lo5), envLast.lo5.toFixed(2), '#9845dc', '#fff')
    tag(yVol(volumes[n - 1]), String(lastVolume), '#17865a', '#fff')
    tag(yRel(lastRel), `${lastRel.toFixed(2)}%`, '#e8202a', '#fff')
    tag(yRsi(lastRsi), lastRsi.toFixed(2), '#5ba7e6', '#fff')
  }, [])

  return (
    <div style={{ position: 'absolute', left: 0, top: 0 }}>
      <svg ref={svgRef} width={W} height={H} style={{ display: 'block' }} />
    </div>
  )
}
